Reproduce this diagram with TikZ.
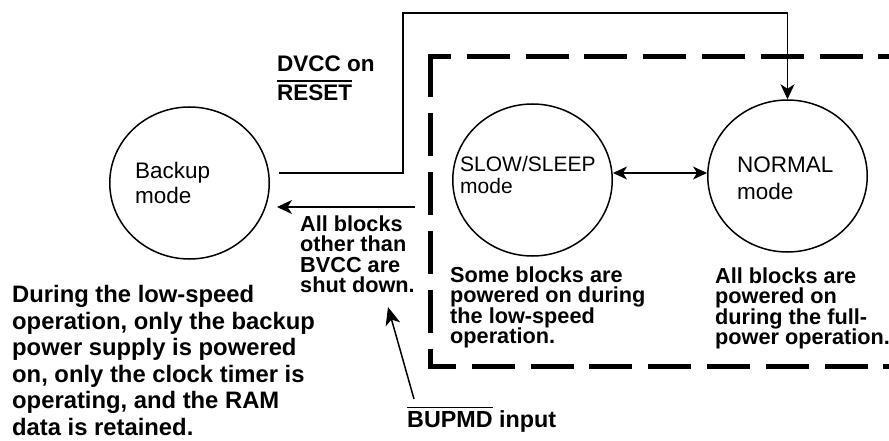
\documentclass[tikz,border=0pt]{standalone}
\usepackage{fontspec}
\setmainfont{Liberation Sans}
\usetikzlibrary{arrows.meta,shapes.geometric}
\newcommand{\ovtext}[1]{\leavevmode\vbox{\hrule height 1.3pt\kern 3pt\hbox{#1}}}
\begin{document}
\begin{tikzpicture}[x=1pt,y=-1pt,
  state/.style={draw, ellipse, line width=1.5pt, minimum width=159.5pt, minimum height=152pt, inner sep=0pt},
  modetxt/.style={anchor=north west, inner sep=0pt, align=left},
  lbl/.style={anchor=north west, inner sep=0pt, align=left,
    font={\bfseries\fontsize{21.7}{20.3}\selectfont\lineskiplimit=-100pt}},
  arr/.style={line width=1.5pt, -{Stealth[length=15pt,width=14pt,inset=4.5pt]}},
  dbl/.style={line width=1.5pt, {Stealth[length=14pt,width=13pt,inset=4pt]}-{Stealth[length=14pt,width=13pt,inset=4pt]}},
  bigarr/.style={line width=1.5pt, -{Stealth[length=18pt,width=15pt,inset=5pt]}},
  bnd/.style={line width=5pt, dash pattern=on 43pt off 15.8pt}
]
\useasboundingbox (0,0) rectangle (889,441);

% dashed boundary
\draw[bnd] (430,54.5) -- (430,368.5);
\draw[bnd, dash phase=22pt] (430,57) -- (889,57);
\draw[bnd, dash phase=17pt] (430,366) -- (889,366);

% states
\node[state] (backup) at (189.5,183) {};
\node[state] (slow) at (532.5,180) {};
\node[state] (normal) at (787.5,176) {};

\node[modetxt, font={\fontsize{22.5}{25}\selectfont}] (backupt) at (135,161.9) {Backup\\mode};
\node[modetxt, font={\fontsize{21}{22}\selectfont}] (slowt) at (460,156) {SLOW/SLEEP\\mode};
\node[modetxt, font={\fontsize{22.5}{27}\selectfont}] (normalt) at (737,156.9) {NORMAL\\mode};

% labels
\node[lbl, font={\bfseries\fontsize{22.5}{28.5}\selectfont\lineskiplimit=-100pt}] (dvcc) at (277,56) {DVCC on\\\ovtext{RESET}};
\node[lbl] (allb) at (300,215.6) {All blocks\\other than\\BVCC are\\shut down.};
\node[lbl] (someb) at (450,266.6) {Some blocks are\\powered on during\\the low-speed\\operation.};
\node[lbl] (allon) at (715,267.6) {All blocks are\\powered on\\during the full-\\power operation.};
\node[lbl, font={\bfseries\fontsize{23.8}{26.6}\selectfont\lineskiplimit=-100pt}] (para) at (12,285)
  {During the low-speed\\operation, only the backup\\power supply is powered\\on, only the clock timer is\\operating, and the RAM\\data is retained.};
\node[anchor=base west, inner sep=0pt, font={\bfseries\fontsize{23.3}{26}\selectfont}] (bupmd) at (407,427) {\ovtext{BUPMD} input};

% connectors
\coordinate (bk1) at (279,173);
\coordinate (bk2) at (403,13);
\draw[arr] (bk1) -| (bk2) -| (normal.north);

\coordinate (sd1) at (415,207);
\coordinate (sd2) at (277,207);
\draw[arr] (sd1) -- (sd2);

\draw[dbl] ([yshift=7pt]slow.east) -- ([yshift=3pt]normal.west);

\coordinate (bp1) at (414,399);
\coordinate (bp2) at (388,307);
\draw[bigarr] (bp1) -- (bp2);
\end{tikzpicture}
\end{document}
